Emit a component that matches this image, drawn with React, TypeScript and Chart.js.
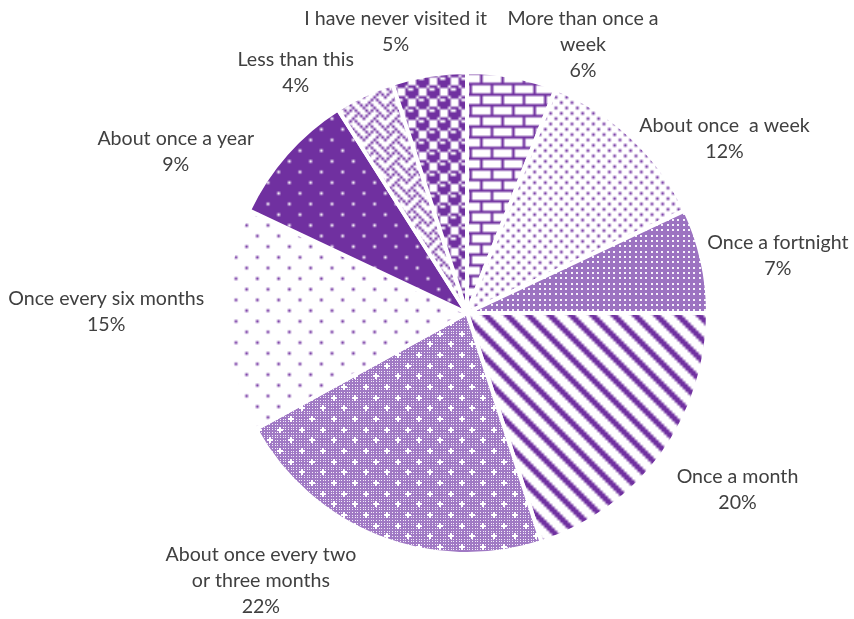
import React, { useEffect, useRef } from "react";
import { Chart, registerables } from "chart.js";

Chart.register(...registerables);

// ---- data ----
const categories = [
  "More than once a\nweek",
  "About once  a week",
  "Once a fortnight",
  "Once a month",
  "About once every two\nor three months",
  "Once every six months",
  "About once a year",
  "Less than this",
  "I have never visited it",
];
const values = [6, 12, 7, 20, 22, 15, 9, 4, 5];

// ---- label layout nudges (px) ----
const labelNudgeX = [55, 28, -2, 19, -79, -13, -45, -40, -18];
const labelNudgeY = [16, 27, 3, 14, -1, -10, 21, 9, -9];

const PURPLE = "#7030A0";
const TEXT = "#404040";
const FONT = "19.6px Lato";
const LINE_H = 26;
const GAP = 9;
const CELL = 8 / 3;

const hex = (bytes: number[]) =>
  bytes.map((b) => {
    let s = "";
    for (let i = 7; i >= 0; i--) s += (b >> i) & 1 ? "X" : ".";
    return s;
  });

type Maker = (ctx: CanvasRenderingContext2D) => CanvasPattern;

function bitmapPattern(rows: string[]): Maker {
  return (ctx) => {
    const c = document.createElement("canvas");
    c.width = 8;
    c.height = 8;
    const g = c.getContext("2d")!;
    g.fillStyle = "#ffffff";
    g.fillRect(0, 0, 8, 8);
    g.fillStyle = PURPLE;
    rows.forEach((r, y) =>
      r.split("").forEach((ch, x) => {
        if (ch === "X") g.fillRect(x, y, 1, 1);
      })
    );
    const p = ctx.createPattern(c, "repeat")!;
    p.setTransform(new DOMMatrix().scale(CELL));
    return p;
  };
}

// fine mid-purple texture with small light dots (drawn in device pixels)
function texturePattern(withCrosses: boolean): Maker {
  return (ctx) => {
    const S = 64;
    const c = document.createElement("canvas");
    c.width = S;
    c.height = S;
    const g = c.getContext("2d")!;
    g.fillStyle = withCrosses ? "#a079c4" : "#9c73c1";
    g.fillRect(0, 0, S, S);
    if (withCrosses) {
      g.fillStyle = "#f4eefa";
      for (let i = 0; i < 24; i++)
        for (let j = 0; j < 24; j++)
          g.fillRect(Math.round(i * CELL), Math.round(j * CELL), 1, 1);
      g.fillStyle = "#ffffff";
      for (let row = 0; row < 6; row++) {
        for (let col = -1; col < 4; col++) {
          const cx = Math.round(col * 8 * CELL + (row % 2 ? 4 * CELL : 0) + 2);
          const cy = Math.round(row * 4 * CELL + 2);
          const pts = [
            [cx, cy], [cx - 2, cy], [cx + 2, cy], [cx, cy - 2], [cx, cy + 2],
          ];
          pts.forEach(([px, py]) => {
            g.fillRect(((px % S) + S) % S, ((py % S) + S) % S, 2, 2);
          });
        }
      }
    } else {
      g.fillStyle = "#f6f1fb";
      for (let i = 0; i < 12; i++)
        for (let j = 0; j < 12; j++)
          g.fillRect(Math.round(i * 2 * CELL), Math.round(j * 2 * CELL), 2, 2);
    }
    return ctx.createPattern(c, "repeat")!;
  };
}

const PATTERN_MAKERS: Maker[] = [
  // small brick
  bitmapPattern(["X.......", "X.......", "X.......", "XXXXXXXX", "....X...", "....X...", "....X...", "XXXXXXXX"]),
  // small dots
  bitmapPattern(["X...X...", "........", "..X...X.", "........", "X...X...", "........", "..X...X.", "........"]),
  // medium texture
  texturePattern(false),
  // wide downward diagonal
  bitmapPattern(["XX.....X", "XXX.....", ".XXX....", "..XXX...", "...XXX..", "....XXX.", ".....XXX", "X.....XX"]),
  // medium texture with white crosses
  texturePattern(true),
  // sparse dots
  bitmapPattern(["X.......", "........", "........", "........", "....X...", "........", "........", "........"]),
  // inverse sparse dots
  bitmapPattern([".XXXXXXX", "XXXXXXXX", "XXXXXXXX", "XXXXXXXX", "XXXX.XXX", "XXXXXXXX", "XXXXXXXX", "XXXXXXXX"]),
  // weave
  bitmapPattern(hex([0x88, 0x54, 0x22, 0x45, 0x88, 0x14, 0x22, 0x51])),
  // sphere
  bitmapPattern(hex([0x77, 0x98, 0xf8, 0xf8, 0x77, 0x89, 0x8f, 0x8f])),
];

const labelPlugin = {
  id: "outLabels",
  afterDatasetsDraw(chart: any) {
    const ctx = chart.ctx as CanvasRenderingContext2D;
    const meta = chart.getDatasetMeta(0);
    ctx.save();
    ctx.font = FONT;
    ctx.fillStyle = TEXT;
    ctx.textAlign = "center";
    ctx.textBaseline = "middle";
    meta.data.forEach((arc: any, i: number) => {
      const { x, y, startAngle, endAngle, outerRadius } = arc.getProps(
        ["x", "y", "startAngle", "endAngle", "outerRadius"],
        true
      );
      const mid = (startAngle + endAngle) / 2;
      const ux = Math.cos(mid);
      const uy = Math.sin(mid);
      const lines = [...categories[i].split("\n"), values[i] + "%"];
      const w = Math.max(...lines.map((l) => ctx.measureText(l).width));
      const h = lines.length * LINE_H;
      const cx = x + ux * (outerRadius + GAP) + (ux * w) / 2 + labelNudgeX[i];
      const cy = y + uy * (outerRadius + GAP) + (uy * h) / 2 + labelNudgeY[i];
      lines.forEach((l, j) =>
        ctx.fillText(l, cx, cy - ((lines.length - 1) * LINE_H) / 2 + j * LINE_H)
      );
    });
    ctx.restore();
  },
};

export default function App() {
  const ref = useRef<HTMLCanvasElement>(null);
  useEffect(() => {
    document.body.style.margin = "0";
    const canvas = ref.current!;
    const ctx = canvas.getContext("2d")!;
    const patterns = PATTERN_MAKERS.map((m) => m(ctx));
    const chart = new Chart(canvas, {
      type: "pie",
      data: {
        labels: categories,
        datasets: [
          {
            data: values,
            backgroundColor: patterns as any,
            borderColor: "#ffffff",
            borderWidth: 4,
            radius: 241,
          } as any,
        ],
      },
      options: {
        animation: false,
        responsive: false,
        devicePixelRatio: 1,
        layout: { padding: { left: 80, right: 0, top: 7, bottom: 0 } },
        plugins: { legend: { display: false }, tooltip: { enabled: false } },
      },
      plugins: [labelPlugin],
    });
    return () => chart.destroy();
  }, []);
  return (
    <canvas
      ref={ref}
      width={854}
      height={619}
      style={{ position: "absolute", left: 0, top: 0, width: 854, height: 619 }}
    />
  );
}
